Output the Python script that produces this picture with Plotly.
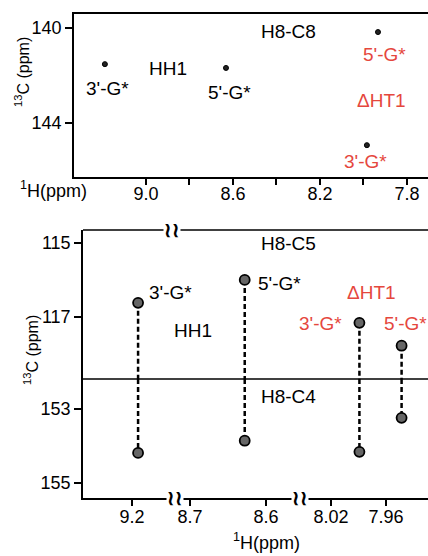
import plotly.graph_objects as go

W, H = 428, 556
def px(x): return x / W
def py(y): return 1 - y / H

FONT = "Liberation Sans, Arial, sans-serif"
RED = "#e5473d"

# ---- data: top panel H8-C8 ----
c8_labels = ["HH1 3'-G*", "HH1 5'-G*", "ΔHT1 5'-G*", "ΔHT1 3'-G*"]
c8_h = [9.189, 8.632, 7.933, 7.984]
c8_c = [141.52, 141.68, 140.17, 144.93]

# ---- data: bottom panel H8-C5 / H8-C4 ----
pk_labels = ["HH1 3'-G*", "HH1 5'-G*", "ΔHT1 3'-G*", "ΔHT1 5'-G*"]
pk_h = [9.192, 8.628, 7.989, 7.943]
c5_c = [116.62, 116.00, 117.16, 117.78]
c4_c = [154.19, 153.86, 154.16, 153.24]
pk_seg = ["x2", "x3", "x4", "x4"]

top_xticks = [9.0, 8.6, 8.2, 7.8]
top_xminor = [8.8, 8.4, 8.0]
top_yticks = [140, 144]
segA_ticks = [9.2]
segB_ticks = [8.7, 8.6]
segC_ticks = [8.02, 7.96]
c5_ticks = [115, 117]
c4_ticks = [153, 155]

# axis ranges (reversed, NMR convention)
top_xr = [9.331, 7.703]
top_yr = [146.27, 139.41]
segA_r = [9.2645, 9.1434]
segB_r = [8.7197, 8.5553]
segC_r = [8.0538, 7.9142]
c5_r = [118.68, 114.65]
c4_r = [155.41, 152.19]

fig = go.Figure()

# top peaks
fig.add_trace(go.Scatter(x=c8_h, y=c8_c, mode="markers", xaxis="x", yaxis="y",
                         marker=dict(symbol="circle", size=5, color="#222",
                                     line=dict(color="black", width=1)),
                         text=c8_labels, showlegend=False))

# dashed connectors and peaks in bottom panel
for h, c5, c4, seg in zip(pk_h, c5_c, c4_c, pk_seg):
    fig.add_trace(go.Scatter(x=[h, h], y=[c5, c5_r[0]], mode="lines", xaxis=seg, yaxis="y3",
                             line=dict(color="black", width=2.5, dash="5px,3px"), showlegend=False))
    fig.add_trace(go.Scatter(x=[h, h], y=[c4_r[1], c4], mode="lines", xaxis=seg, yaxis="y2",
                             line=dict(color="black", width=2.5, dash="5px,3px"), showlegend=False))
for h, c5, c4, seg, lab in zip(pk_h, c5_c, c4_c, pk_seg, pk_labels):
    for yax, cv in (("y3", c5), ("y2", c4)):
        fig.add_trace(go.Scatter(x=[h], y=[cv], mode="markers", xaxis=seg, yaxis=yax,
                                 marker=dict(symbol="circle", size=10, color="#666",
                                             line=dict(color="black", width=1.8)),
                                 text=[lab], showlegend=False))

tickfont = dict(family=FONT, size=18, color="black")
common_x = dict(showline=True, linecolor="black", linewidth=1.5, ticks="outside",
                ticklen=6, tickwidth=1.5, tickcolor="black", showgrid=False,
                zeroline=False, tickfont=tickfont, tickmode="array")
common_y = dict(showline=True, linecolor="black", linewidth=1.5, ticks="outside",
                ticklen=7, tickwidth=1.5, tickcolor="black", showgrid=False,
                zeroline=False, tickfont=tickfont, tickmode="array")

fig.update_layout(
    width=W, height=H, margin=dict(l=0, r=0, t=0, b=0),
    paper_bgcolor="white", plot_bgcolor="white", showlegend=False,
    font=dict(family=FONT, color="black"),
    xaxis=dict(domain=[px(74), 1], range=top_xr, anchor="y", mirror=True,
               tickvals=top_xticks, ticktext=[f"{v:.1f}" for v in top_xticks],
               ticklabelstandoff=-6,
               minor=dict(tickmode="array", tickvals=top_xminor, ticks="outside",
                          ticklen=6, tickwidth=1.5, tickcolor="black", showgrid=False),
               **common_x),
    yaxis=dict(domain=[py(177), py(14)], range=top_yr, anchor="x",
               tickvals=top_yticks, ticktext=[str(v) for v in top_yticks], **common_y),
    xaxis2=dict(domain=[px(83), px(175)], range=segA_r, anchor="y2",
                tickvals=segA_ticks, ticktext=["9.2"], ticklabelstandoff=-4, **common_x),
    xaxis3=dict(domain=[px(175), px(300)], range=segB_r, anchor="y2",
                tickvals=segB_ticks, ticktext=["8.7", "8.6"], ticklabelstandoff=-4, **common_x),
    xaxis4=dict(domain=[px(300), 1], range=segC_r, anchor="y2",
                tickvals=segC_ticks, ticktext=["8.02", "7.96"], ticklabelstandoff=-4, **common_x),
    yaxis2=dict(domain=[py(498), py(379)], range=c4_r, anchor="x2",
                tickvals=c4_ticks, ticktext=[str(v) for v in c4_ticks], **common_y),
    yaxis3=dict(domain=[py(379), py(230)], range=c5_r, anchor="x2",
                tickvals=c5_ticks, ticktext=[str(v) for v in c5_ticks], **common_y),
)

# frame lines of bottom panel
fig.add_shape(type="line", xref="paper", yref="paper", x0=px(83), x1=1, y0=py(230), y1=py(230),
              line=dict(color="black", width=1.5))
fig.add_shape(type="line", xref="paper", yref="paper", x0=px(83), x1=1, y0=py(379), y1=py(379),
              line=dict(color="black", width=1.5))

def ann(text, x, y, color="black", size=19, xanchor="center", **kw):
    fig.add_annotation(text=text, x=px(x), y=py(y), xref="paper", yref="paper",
                       showarrow=False, xanchor=xanchor, yanchor="middle",
                       font=dict(family=FONT, size=size, color=color), **kw)

# top labels
ann("H8-C8", 288, 32)
ann("HH1", 168, 68)
ann("3'-G*", 107, 88)
ann("5'-G*", 229, 93)
ann("5'-G*", 384, 54, RED)
ann("ΔHT1", 381, 101, RED)
ann("3'-G*", 365, 162, RED)
ann("<sup>1</sup>H(ppm)", 54, 189, size=18)
ann("<sup>13</sup>C (ppm)", 22, 72, size=16, textangle=-90)

# bottom labels
ann("H8-C5", 288, 244)
ann("3'-G*", 170, 292)
ann("5'-G*", 279, 283)
ann("ΔHT1", 371, 292, RED)
ann("HH1", 193, 330)
ann("3'-G*", 320, 323, RED)
ann("5'-G*", 382, 323, RED, xanchor="left")
ann("H8-C4", 288, 396)
ann("<sup>1</sup>H(ppm)", 266, 541, size=18)
ann("<sup>13</sup>C (ppm)", 31, 350, size=16, textangle=-90)

# axis break marks
for bx, by in ((172, 230), (175, 498), (300, 498)):
    ann("<b>≀≀</b>", bx, by, size=20, bgcolor="white", borderpad=0)

fig.write_html("out.html", config={"displayModeBar": False},
               post_script="document.body.style.margin='0';document.body.style.overflow='hidden';")
